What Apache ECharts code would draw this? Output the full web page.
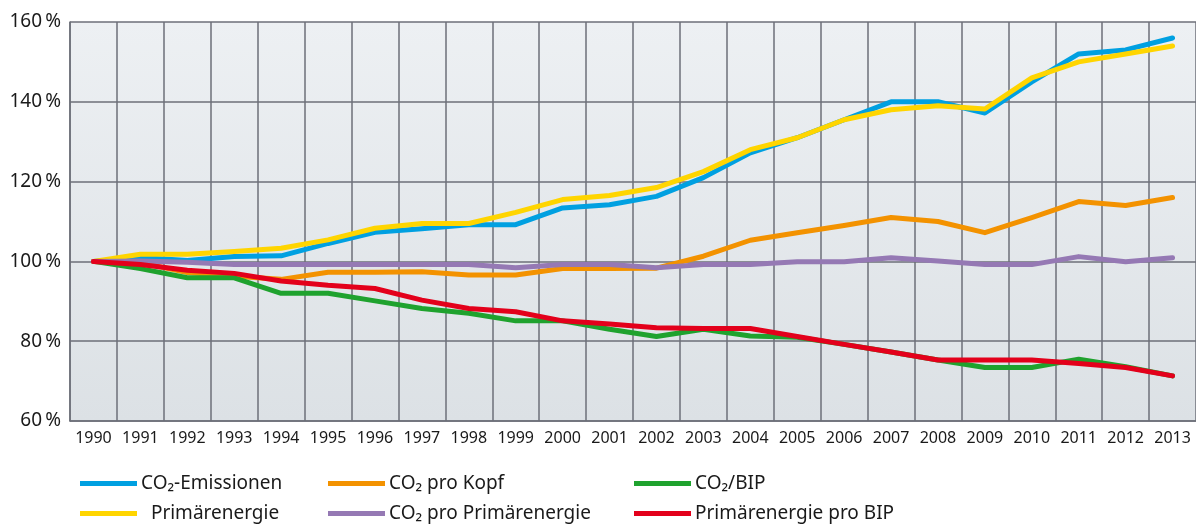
<!DOCTYPE html>
<html>
<head>
<meta charset="utf-8">
<title>CO2-Emissionen und Primärenergie 1990–2013</title>
<script src="https://cdn.jsdelivr.net/npm/echarts@6/dist/echarts.min.js"></script>
<style>
  html, body { margin: 0; padding: 0; background: #fff; }
  #chart { width: 1196px; height: 525px; }
</style>
</head>
<body>
<div id="chart"></div>
<script>
// Jahre (x-Achse)
const years = ['1990', '1991', '1992', '1993', '1994', '1995', '1996', '1997', '1998', '1999', '2000', '2001',
  '2002', '2003', '2004', '2005', '2006', '2007', '2008', '2009', '2010', '2011', '2012', '2013']

// Index 1990 = 100 %
const co2Emissionen = [100, 101, 100.2, 101.2, 101.4, 104.5, 107.3, 108.2, 109.2, 109.2, 113.4, 114.2,
  116.3, 121, 127.2, 131, 135.5, 140, 140, 137.2, 145, 152, 153, 156]
const co2ProKopf = [100, 99.7, 97.2, 96.3, 95.5, 97.3, 97.3, 97.4, 96.6, 96.6, 98.2, 98.2,
  98.3, 101.3, 105.3, 107.2, 109, 111, 110, 107.2, 111, 115, 114, 116]
const co2Bip = [100, 98.2, 95.9, 95.9, 92, 92, 90.1, 88.2, 87, 85.1, 85.1, 83,
  81.2, 83, 81.3, 81, 79.2, 77.3, 75.3, 73.4, 73.4, 75.5, 73.6, 71.3]
const primaerenergie = [100, 101.8, 101.8, 102.5, 103.3, 105.4, 108.3, 109.5, 109.5, 112.3, 115.5, 116.5,
  118.5, 122.5, 128, 131, 135.5, 138, 139, 138.2, 146, 150, 152, 154]
const co2ProPrimaerenergie = [100, 100.1, 99.8, 99.2, 99.2, 99.2, 99.2, 99.2, 99.2, 98.4, 99.2, 99.2,
  98.4, 99.2, 99.2, 99.9, 99.9, 100.9, 100.1, 99.2, 99.2, 101.2, 99.9, 100.9]
const primaerenergieProBip = [100, 99.2, 97.8, 97, 95.1, 94, 93.2, 90.3, 88.2, 87.4, 85.1, 84.3,
  83.4, 83.2, 83.2, 81.2, 79.2, 77.3, 75.3, 75.3, 75.3, 74.4, 73.4, 71.3]

// Achsenbeschriftung
const yTicks = [60, 80, 100, 120, 140, 160]

const FONT = '"Noto Sans", sans-serif'
const GRID_COLOR = '#6c6f78'

function makeSeries(name, data, color) {
  return {
    name,
    type: 'line',
    data,
    symbol: 'none',
    lineStyle: { width: 5, color, cap: 'round', join: 'round' },
    itemStyle: { color },
    animation: false
  }
}

// ein Legenden-Eintrag pro Komponente, damit die Spalten wie im Original liegen
function makeLegend(left, top, name) {
  return {
    left,
    top,
    padding: 0,
    itemWidth: 57,
    itemHeight: 5,
    itemGap: 0,
    icon: 'rect',
    selectedMode: false,
    data: [name],
    formatter: n => n === 'Primärenergie' ? '  ' + n : n,
    textStyle: { fontFamily: FONT, fontSize: 19, color: '#1a1a1a', padding: [0, 0, 0, -1] }
  }
}

const chart = echarts.init(document.getElementById('chart'), null, { renderer: 'canvas' })

chart.setOption({
  animation: false,
  grid: {
    left: 70,
    top: 22,
    width: 1133,
    height: 399,
    show: true,
    borderWidth: 0,
    backgroundColor: {
      type: 'linear', x: 0, y: 0, x2: 0, y2: 1,
      colorStops: [
        { offset: 0, color: '#edf0f3' },
        { offset: 1, color: '#dce1e5' }
      ]
    }
  },
  legend: [
    makeLegend(80, 474, 'CO₂-Emissionen'),
    makeLegend(80, 504, 'Primärenergie'),
    makeLegend(328, 474, 'CO₂ pro Kopf'),
    makeLegend(328, 504, 'CO₂ pro Primärenergie'),
    makeLegend(634, 474, 'CO₂/BIP'),
    makeLegend(634, 504, 'Primärenergie pro BIP')
  ],
  xAxis: {
    type: 'category',
    data: years,
    boundaryGap: true,
    axisLine: { show: true, lineStyle: { color: GRID_COLOR, width: 1.5 } },
    axisTick: { show: false },
    splitLine: { show: true, lineStyle: { color: GRID_COLOR, width: 1.5 } },
    axisLabel: { fontFamily: FONT, fontSize: 16, color: '#1a1a1a', margin: 9, interval: 0 }
  },
  yAxis: {
    type: 'value',
    min: yTicks[0],
    max: yTicks[yTicks.length - 1],
    interval: 20,
    axisLine: { show: true, lineStyle: { color: GRID_COLOR, width: 1.5 } },
    axisTick: { show: false },
    splitLine: { show: true, lineStyle: { color: GRID_COLOR, width: 1.5 } },
    axisLabel: {
      fontFamily: FONT, fontSize: 19, color: '#1a1a1a', margin: 9,
      formatter: v => v + '\u2009%'
    }
  },
  series: [
    makeSeries('CO₂-Emissionen', co2Emissionen, '#00a0e1'),
    makeSeries('CO₂ pro Kopf', co2ProKopf, '#f39200'),
    makeSeries('CO₂/BIP', co2Bip, '#1fa22e'),
    makeSeries('Primärenergie', primaerenergie, '#ffd500'),
    makeSeries('CO₂ pro Primärenergie', co2ProPrimaerenergie, '#9579b4'),
    makeSeries('Primärenergie pro BIP', primaerenergieProBip, '#e3001b')
  ]
})

window.addEventListener('resize', () => chart.resize())
</script>
</body>
</html>
